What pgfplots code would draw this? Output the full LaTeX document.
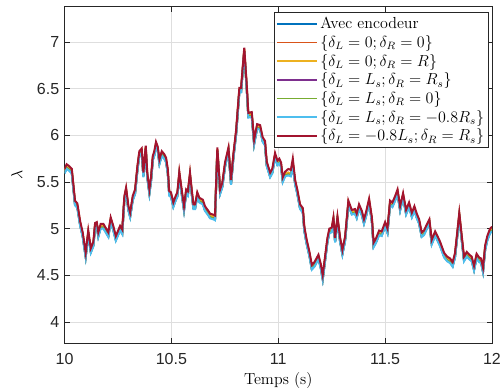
\documentclass[border=0pt]{standalone}
\usepackage{fontspec}
\newfontfamily\tickfont{Liberation Sans}
\usepackage{pgfplots}
\usepackage{pgfplotstable}
\pgfplotsset{compat=1.18}
\definecolor{c1}{rgb}{0,0.447,0.741}
\definecolor{c2}{rgb}{0.85,0.325,0.098}
\definecolor{c3}{rgb}{0.929,0.694,0.125}
\definecolor{c4}{rgb}{0.494,0.184,0.556}
\definecolor{c5}{rgb}{0.466,0.674,0.188}
\definecolor{c6}{rgb}{0.301,0.745,0.933}
\definecolor{c7}{rgb}{0.635,0.078,0.184}
\definecolor{axc}{rgb}{0.15,0.15,0.15}
\pgfplotstableread{
t r a b c
10.000 5.64 5.62 5.60 5.59
10.010 5.69 5.67 5.65 5.64
10.022 5.67 5.65 5.63 5.62
10.034 5.64 5.62 5.60 5.59
10.049 5.30 5.28 5.26 5.25
10.060 5.27 5.25 5.23 5.22
10.073 5.08 5.06 5.04 5.03
10.085 4.96 4.94 4.92 4.91
10.099 4.74 4.72 4.70 4.69
10.111 4.98 4.96 4.94 4.93
10.123 4.79 4.77 4.75 4.74
10.135 4.86 4.84 4.82 4.81
10.143 5.06 5.04 5.02 5.01
10.151 5.07 5.05 5.03 5.02
10.158 4.96 4.94 4.92 4.91
10.169 5.05 5.03 5.01 5.00
10.182 5.05 5.03 5.01 5.00
10.205 4.96 4.94 4.92 4.91
10.216 5.12 5.10 5.08 5.07
10.228 5.03 5.01 4.99 4.98
10.240 4.92 4.90 4.88 4.87
10.260 5.03 5.01 4.99 4.98
10.270 4.99 4.97 4.95 4.94
10.280 5.35 5.33 5.31 5.30
10.288 5.44 5.42 5.40 5.39
10.299 5.24 5.22 5.20 5.19
10.307 5.17 5.15 5.13 5.12
10.319 5.35 5.33 5.31 5.30
10.330 5.42 5.40 5.38 5.37
10.341 5.67 5.65 5.63 5.62
10.350 5.83 5.81 5.79 5.78
10.361 5.86 5.84 5.82 5.81
10.369 5.60 5.58 5.56 5.55
10.380 5.89 5.87 5.85 5.84
10.387 5.60 5.58 5.56 5.55
10.397 5.42 5.40 5.38 5.37
10.405 5.56 5.54 5.52 5.51
10.413 5.78 5.76 5.74 5.73
10.420 5.83 5.81 5.79 5.78
10.428 5.93 5.91 5.89 5.88
10.436 5.88 5.86 5.84 5.83
10.444 5.74 5.72 5.70 5.69
10.455 5.83 5.81 5.79 5.78
10.466 5.80 5.78 5.76 5.75
10.475 5.76 5.74 5.72 5.71
10.483 5.64 5.62 5.60 5.59
10.490 5.40 5.38 5.36 5.35
10.498 5.39 5.37 5.35 5.34
10.509 5.28 5.26 5.24 5.23
10.520 5.35 5.33 5.31 5.30
10.528 5.39 5.37 5.35 5.34
10.537 5.61 5.59 5.57 5.56
10.548 5.42 5.40 5.38 5.37
10.559 5.24 5.22 5.20 5.19
10.569 5.42 5.40 5.38 5.37
10.577 5.40 5.38 5.36 5.35
10.587 5.60 5.58 5.56 5.55
10.595 5.42 5.40 5.38 5.37
10.603 5.26 5.24 5.22 5.21
10.611 5.26 5.24 5.22 5.21
10.621 5.39 5.37 5.35 5.34
10.631 5.33 5.31 5.29 5.28
10.647 5.31 5.29 5.27 5.26
10.657 5.24 5.22 5.20 5.19
10.673 5.19 5.17 5.15 5.14
10.681 5.16 5.14 5.12 5.11
10.696 5.15 5.13 5.11 5.10
10.704 5.14 5.12 5.10 5.09
10.715 5.87 5.85 5.83 5.82
10.728 5.42 5.40 5.38 5.37
10.738 5.49 5.47 5.45 5.44
10.751 5.71 5.69 5.67 5.66
10.767 5.87 5.85 5.83 5.82
10.779 5.52 5.50 5.48 5.47
10.790 5.80 5.78 5.76 5.75
10.803 6.06 6.04 6.02 6.01
10.818 6.51 6.49 6.47 6.46
10.826 6.51 6.49 6.47 6.46
10.834 6.74 6.72 6.70 6.69
10.841 6.94 6.92 6.90 6.89
10.853 6.52 6.50 6.48 6.47
10.860 6.24 6.22 6.20 6.19
10.876 6.25 6.23 6.21 6.20
10.887 5.95 5.93 5.91 5.90
10.901 6.12 6.10 6.08 6.07
10.915 6.11 6.09 6.07 6.06
10.927 5.98 5.96 5.94 5.93
10.938 5.94 5.92 5.90 5.89
10.946 5.72 5.70 5.68 5.67
10.962 5.60 5.58 5.56 5.55
10.972 5.64 5.62 5.60 5.59
10.985 5.81 5.79 5.77 5.76
10.996 5.73 5.71 5.69 5.68
11.005 5.75 5.73 5.71 5.70
11.013 5.71 5.69 5.67 5.66
11.021 5.55 5.53 5.51 5.50
11.032 5.61 5.59 5.57 5.56
11.047 5.64 5.60 5.58 5.57
11.059 5.63 5.59 5.57 5.56
11.068 5.75 5.71 5.69 5.68
11.079 5.52 5.50 5.48 5.47
11.089 5.42 5.40 5.38 5.37
11.102 5.26 5.24 5.22 5.21
11.115 5.22 5.20 5.18 5.17
11.122 5.02 5.00 4.98 4.97
11.133 4.88 4.86 4.84 4.83
11.146 4.75 4.73 4.71 4.70
11.157 4.61 4.59 4.57 4.56
11.169 4.64 4.62 4.60 4.59
11.188 4.72 4.70 4.68 4.67
11.199 4.62 4.60 4.58 4.57
11.208 4.50 4.48 4.46 4.45
11.219 4.70 4.68 4.66 4.65
11.230 4.90 4.88 4.86 4.85
11.239 5.00 4.98 4.96 4.95
11.250 5.01 4.99 4.97 4.96
11.258 5.12 5.10 5.08 5.07
11.266 4.90 4.88 4.86 4.85
11.277 5.13 5.11 5.09 5.08
11.289 4.91 4.89 4.87 4.86
11.300 4.77 4.75 4.73 4.72
11.313 4.92 4.90 4.88 4.87
11.328 5.30 5.28 5.26 5.25
11.344 5.20 5.18 5.16 5.15
11.359 5.21 5.19 5.17 5.16
11.367 5.16 5.14 5.12 5.11
11.378 5.26 5.24 5.22 5.21
11.391 5.19 5.17 5.15 5.14
11.401 5.10 5.08 5.06 5.05
11.411 5.18 5.16 5.14 5.13
11.425 5.32 5.30 5.28 5.27
11.438 5.12 5.10 5.08 5.07
11.446 4.85 4.83 4.81 4.80
11.458 4.90 4.88 4.86 4.85
11.472 4.98 4.96 4.94 4.93
11.484 4.97 4.95 4.93 4.92
11.500 5.07 5.05 5.03 5.02
11.511 5.00 4.98 4.96 4.95
11.523 5.30 5.28 5.26 5.25
11.534 5.28 5.26 5.24 5.23
11.547 5.35 5.33 5.31 5.30
11.558 5.42 5.40 5.38 5.37
11.570 5.24 5.22 5.20 5.19
11.584 5.38 5.36 5.34 5.33
11.598 5.20 5.18 5.16 5.15
11.612 5.28 5.26 5.24 5.23
11.625 5.17 5.15 5.13 5.12
11.637 5.24 5.22 5.20 5.19
11.648 5.16 5.14 5.12 5.11
11.659 5.10 5.08 5.06 5.05
11.671 4.96 4.94 4.92 4.91
11.682 4.98 4.96 4.94 4.93
11.696 5.05 5.03 5.01 5.00
11.707 5.10 5.08 5.06 5.05
11.718 4.88 4.86 4.84 4.83
11.734 4.97 4.95 4.93 4.92
11.743 4.93 4.91 4.89 4.88
11.757 4.86 4.84 4.82 4.81
11.776 4.74 4.72 4.70 4.69
11.790 4.70 4.68 4.66 4.65
11.804 4.68 4.66 4.64 4.63
11.816 4.64 4.62 4.60 4.59
11.827 4.74 4.72 4.70 4.69
11.837 4.95 4.93 4.91 4.90
11.847 5.17 5.15 5.13 5.12
11.859 4.91 4.89 4.87 4.86
11.869 4.70 4.68 4.66 4.65
11.882 4.75 4.73 4.71 4.70
11.894 4.72 4.70 4.68 4.67
11.905 4.70 4.68 4.66 4.65
11.916 4.60 4.58 4.56 4.55
11.928 4.73 4.71 4.69 4.68
11.940 4.69 4.67 4.65 4.64
11.949 4.68 4.66 4.64 4.63
11.958 4.58 4.56 4.54 4.53
11.968 4.82 4.80 4.78 4.77
11.978 4.92 4.90 4.88 4.87
11.991 5.00 4.98 4.96 4.95
12.000 5.02 5.00 4.98 4.97
}\data
\begin{document}
\begin{tikzpicture}
\begin{axis}[
  scale only axis,
  width=320.6pt, height=252.5pt,
  xmin=10, xmax=12, ymin=3.77, ymax=7.38,
  xtick={10,10.5,11,11.5,12},
  ytick={4,4.5,5,5.5,6,6.5,7},
  grid=major,
  major grid style={color=black!13, line width=0.5pt},
  axis line style={color=axc, line width=0.5pt},
  tick style={color=axc, line width=0.5pt},
  tick align=inside,
  major tick length=4pt,
  /pgf/number format/assume math mode=true,
  ticklabel style={font=\tickfont\fontsize{12}{14}\selectfont, color=axc},
  xticklabel shift=4pt,
  yticklabel shift=0.5pt,
  xlabel={Temps (s)},
  ylabel={$\lambda$},
  label style={font=\fontsize{12}{14}\selectfont},
  xlabel style={at={(rel axis cs:0.5,0)}, anchor=base, yshift=-30.8pt},
  ylabel shift=4pt,
  legend cell align=left,
  legend style={at={(rel axis cs:0.993,0.983)}, anchor=north east,
    draw=axc, fill=white, line width=0.5pt,
    font=\fontsize{12}{14}\selectfont, inner sep=1.5pt, row sep=-0.5pt},
  legend image code/.code={\draw[#1,line width=1.2pt] (0pt,0pt) -- (30pt,0pt);},
  every axis plot/.append style={line width=1.5pt},
]
\addplot[c1] table[x=t,y=b]{\data};
\addlegendentry{Avec encodeur}
\addplot[c2] table[x=t,y=a]{\data};
\addlegendentry{$\{\delta_L=0;\delta_R=0\}$}
\addplot[c3] table[x=t,y=a]{\data};
\addlegendentry{$\{\delta_L=0;\delta_R=R\}$}
\addplot[c4] table[x=t,y=b]{\data};
\addlegendentry{$\{\delta_L=L_s;\delta_R=R_s\}$}
\addplot[c5] table[x=t,y=b]{\data};
\addlegendentry{$\{\delta_L=L_s;\delta_R=0\}$}
\addplot[c6] table[x=t,y=c]{\data};
\addlegendentry{$\{\delta_L=L_s;\delta_R=-0.8R_s\}$}
\addplot[c7] table[x=t,y=r]{\data};
\addlegendentry{$\{\delta_L=-0.8L_s;\delta_R=R_s\}$}
\end{axis}
\pgfresetboundingbox
\path[use as bounding box] ([xshift=-48.4pt,yshift=-36.5pt]current axis.south west) rectangle ([xshift=6.75pt,yshift=5pt]current axis.north east);
\end{tikzpicture}
\end{document}
